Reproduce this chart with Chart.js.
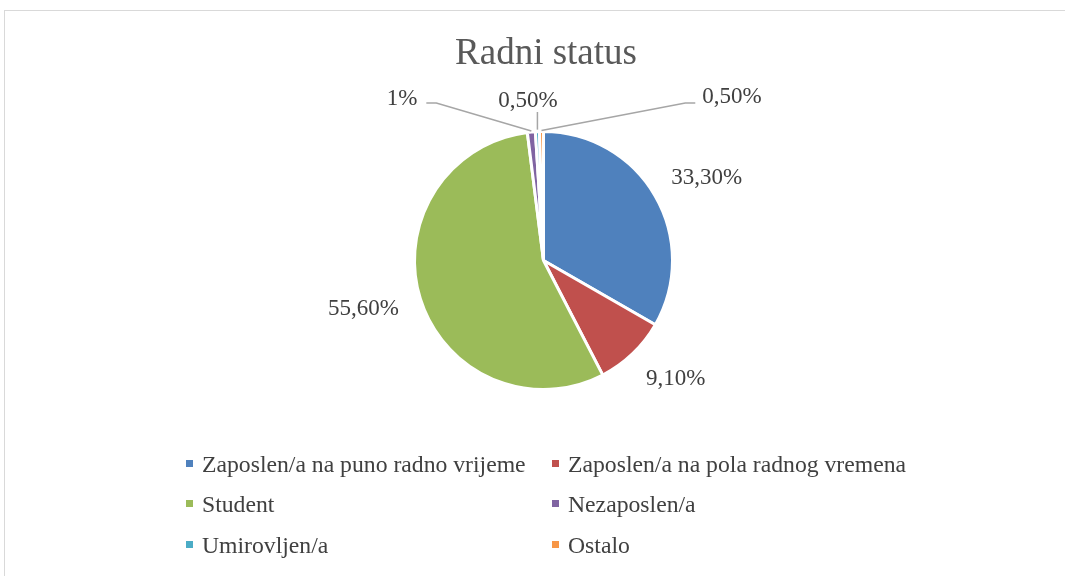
<!DOCTYPE html>
<html>
<head>
<meta charset="utf-8">
<title>Radni status</title>
<script src="https://cdn.jsdelivr.net/npm/chart.js@4.4.1/dist/chart.umd.min.js"></script>
<style>
    html, body { margin: 0; padding: 0; background: #ffffff; overflow: hidden; }
    #wrap { position: relative; width: 1065px; height: 576px; }
    #frame {
        position: absolute; left: 4px; top: 10px; width: 1100px; height: 600px;
        border: 1px solid #d9d9d9; box-sizing: border-box;
    }
    #chart { position: absolute; left: 0; top: 0; }
</style>
</head>
<body>
<div id="wrap">
    <div id="frame"></div>
    <canvas id="chart" width="1065" height="576"></canvas>
</div>
<script>
// Data
const chartTitle = 'Radni status';
const categories = [
    'Zaposlen/a na puno radno vrijeme',
    'Zaposlen/a na pola radnog vremena',
    'Student',
    'Nezaposlen/a',
    'Umirovljen/a',
    'Ostalo'
];
const percentValues = [33.3, 9.1, 55.6, 1, 0.5, 0.5];
const valueLabels = ['33,30%', '9,10%', '55,60%', '1%', '0,50%', '0,50%'];
const sliceColors = ['#4F81BD', '#C0504D', '#9BBB59', '#8064A2', '#4BACC6', '#F79646'];

const TITLE_FONT = '37px "Liberation Serif"';
const LABEL_FONT = '23px "Liberation Serif"';
const LEGEND_FONT = '23.7px "Liberation Serif"';
const textColor = '#404040';

// nudges for the outside-end labels (Excel does not place them strictly radially)
const labelNudge = { 0: { x: 0, y: 0 }, 1: { x: 6, y: 0 }, 2: { x: 0, y: 0 } };

// placement of the callout labels for the thin slices (label centre + leader style)
const calloutLayout = {
    3: { x: 402, y: 99, side: 'left' },
    4: { x: 528, y: 101, side: 'below' },
    5: { x: 732, y: 97, side: 'right' }
};

// legend grid: two columns, three rows
const legendCols = [186, 552];
const legendRows = [472, 512, 553];

const labelsPlugin = {
    id: 'excelLabels',
    afterDatasetsDraw(chart) {
        const ctx = chart.ctx;
        const arcs = chart.getDatasetMeta(0).data;
        ctx.save();

        // title
        ctx.font = TITLE_FONT;
        ctx.fillStyle = '#595959';
        ctx.textAlign = 'center';
        ctx.textBaseline = 'alphabetic';
        ctx.fillText(chartTitle, 546, 64);

        ctx.font = LABEL_FONT;
        ctx.fillStyle = textColor;
        ctx.textBaseline = 'middle';

        arcs.forEach((arc, i) => {
            const p = arc.getProps(['x', 'y', 'startAngle', 'endAngle', 'outerRadius'], true);
            const mid = (p.startAngle + p.endAngle) / 2;
            const dx = Math.cos(mid), dy = Math.sin(mid);
            const text = valueLabels[i];
            const w = ctx.measureText(text).width;
            const h = 22;
            const c = calloutLayout[i];

            if (!c) {
                // outside end label
                const n = labelNudge[i] || { x: 0, y: 0 };
                const ax = p.x + dx * (p.outerRadius + 24);
                const ay = p.y + dy * (p.outerRadius + 24);
                ctx.textAlign = 'center';
                ctx.fillText(text, ax + dx * w / 2 + n.x, ay + dy * h / 2 + n.y);
                return;
            }

            const edgeX = p.x + dx * p.outerRadius;
            const edgeY = p.y + dy * p.outerRadius;
            ctx.strokeStyle = '#a6a6a6';
            ctx.lineWidth = 1.5;
            ctx.beginPath();
            if (c.side === 'left') {
                const ex = c.x + w / 2 + 9, ey = c.y + 4;
                ctx.moveTo(ex, ey);
                ctx.lineTo(ex + 10, ey);
                ctx.lineTo(edgeX, edgeY - 1);
            } else if (c.side === 'right') {
                const ex = c.x - w / 2 - 7, ey = c.y + 6;
                ctx.moveTo(ex, ey);
                ctx.lineTo(ex - 10, ey);
                ctx.lineTo(edgeX, edgeY - 1);
            } else {
                ctx.moveTo(edgeX, c.y + h / 2);
                ctx.lineTo(edgeX, edgeY - 2);
            }
            ctx.stroke();
            ctx.textAlign = 'center';
            ctx.fillText(text, c.x, c.y);
        });

        // legend
        ctx.textAlign = 'left';
        ctx.textBaseline = 'alphabetic';
        ctx.font = LEGEND_FONT;
        categories.forEach((name, i) => {
            const x = legendCols[i % 2];
            const y = legendRows[Math.floor(i / 2)];
            ctx.fillStyle = sliceColors[i];
            ctx.fillRect(x, y - 12, 7, 7);
            ctx.fillStyle = textColor;
            ctx.fillText(name, x + 16, y);
        });

        ctx.restore();
    }
};

new Chart(document.getElementById('chart'), {
    type: 'pie',
    data: {
        labels: categories,
        datasets: [{
            data: percentValues,
            backgroundColor: sliceColors,
            borderColor: '#ffffff',
            borderWidth: 3
        }]
    },
    options: {
        responsive: false,
        animation: false,
        layout: { padding: { left: 413, right: 391, top: 130, bottom: 185 } },
        plugins: {
            legend: { display: false },
            title: { display: false },
            tooltip: { enabled: false }
        }
    },
    plugins: [labelsPlugin]
});
</script>
</body>
</html>
